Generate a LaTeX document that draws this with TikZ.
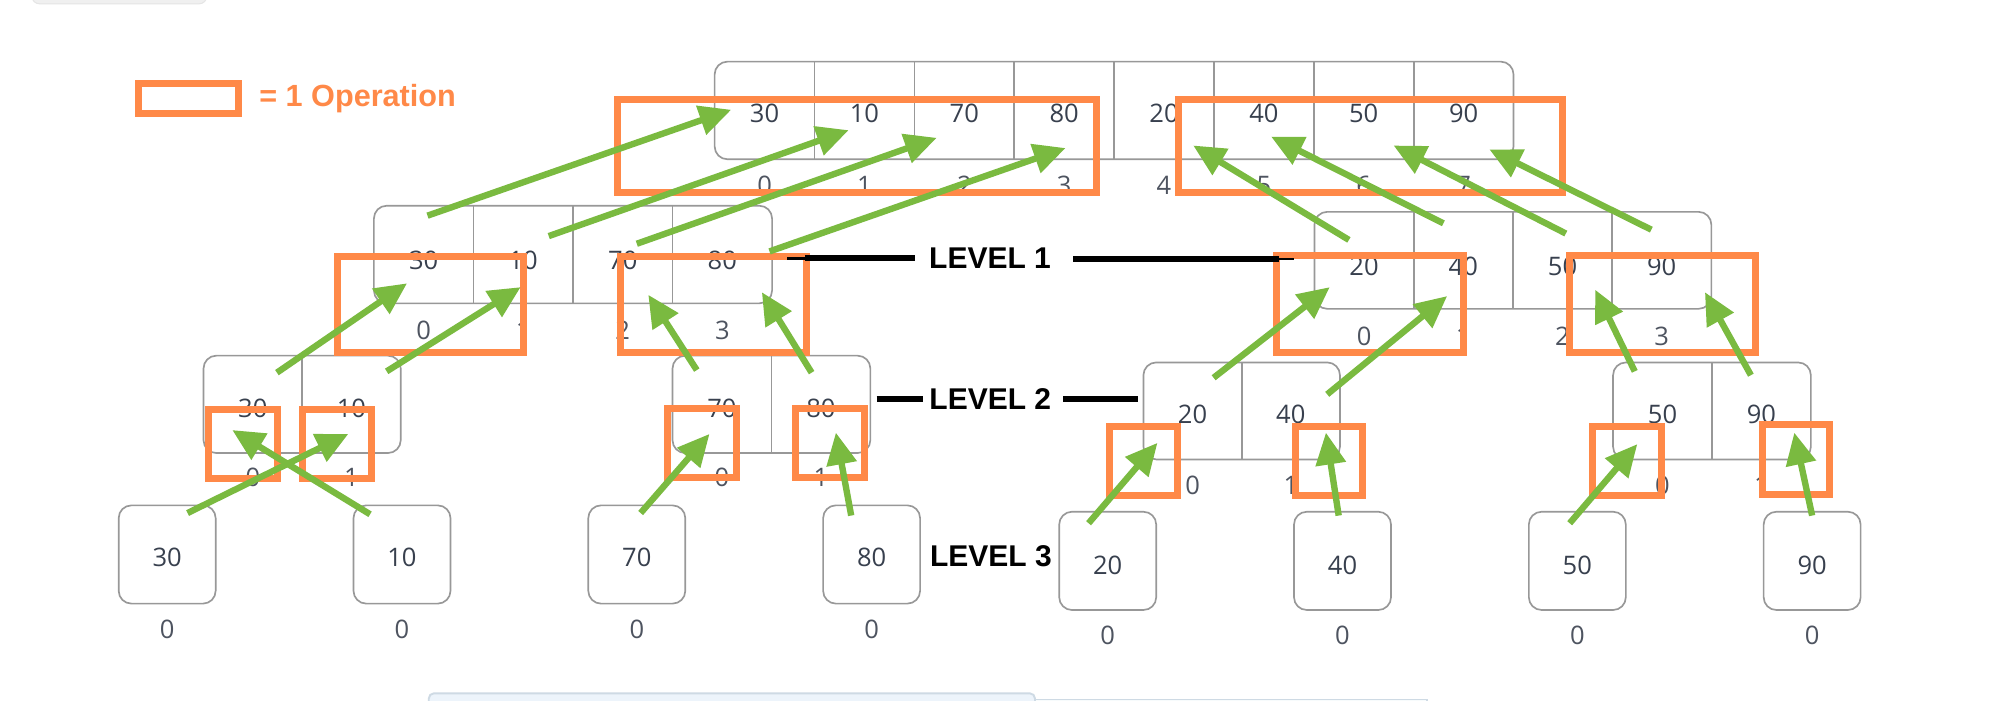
\documentclass[tikz,border=0pt]{standalone}
\usepackage{fontspec}
\setmainfont{Open Sans}
\newfontfamily\levelfont{Liberation Sans}
\usetikzlibrary{arrows.meta}

\definecolor{opcolor}{RGB}{255,137,72}
\definecolor{movecolor}{RGB}{122,186,64}
\definecolor{cellgray}{RGB}{152,152,152}
\definecolor{valuecolor}{RGB}{56,64,78}
\definecolor{indexcolor}{RGB}{78,84,96}
\definecolor{tabgray}{RGB}{240,240,240}
\definecolor{panelfill}{RGB}{237,244,251}
\definecolor{panelline}{RGB}{206,218,228}
\definecolor{panelfilltwo}{RGB}{247,251,252}

\tikzset{
  cellrow/.style={draw=cellgray, line width=1.3pt, rounded corners=10pt, inner sep=0pt, outer sep=0pt},
  cellline/.style={draw=cellgray, line width=1.3pt},
  valuetext/.style={text=valuecolor, font=\fontsize{20}{24}\selectfont, inner sep=0pt},
  indextext/.style={text=indexcolor, font=\fontsize{20}{24}\selectfont, inner sep=0pt},
  opframe/.style={draw=opcolor, line width=5.5pt},
  movearrow/.style={draw=movecolor, line width=5pt, -{Triangle[length=25pt,width=23pt]}},
  leveltext/.style={font=\levelfont\bfseries\fontsize{23.5}{28}\selectfont, inner sep=0pt},
  levelrule/.style={line width=4.7pt},
  levelthin/.style={line width=2pt},
}

% an array drawn as a row of cells: name, left, right, top, bottom,
% number of cells, value baseline, index baseline, values
\newcommand\arrayrow[9]{%
  \pgfmathsetmacro\cw{(#3-#2)/#6}%
  \node[cellrow, minimum width={#3-#2}, minimum height={#5-#4}] (#1) at ({(#2+#3)/2},{(#4+#5)/2}) {};%
  \foreach \v [count=\ci from 0] in {#9} {%
    \node[valuetext] (#1-v\ci) at ({#2+(\ci+0.5)*\cw},#7) {\v};%
    \node[indextext] (#1-i\ci) at ({#2+(\ci+0.5)*\cw},#8) {\ci};%
    \ifnum\ci>0 \draw[cellline] ({#2+\ci*\cw},#4) -- ({#2+\ci*\cw},#5);\fi
  }%
}

\begin{document}
\begin{tikzpicture}[x=1pt,y=-1pt]
\useasboundingbox (0,0) rectangle (1568,549);
\clip (0,0) rectangle (1568,549);
\fill[white] (0,0) rectangle (1568,549);

% page furniture at the edges
\filldraw[fill=tabgray, draw=gray!20, line width=0.8pt, rounded corners=6pt] (25,-20) rectangle (162,3);
\filldraw[fill=panelfill, draw=panelline, line width=1.5pt, rounded corners=4pt] (336,543.3) rectangle (811,570);
\filldraw[fill=panelfilltwo, draw=panelline, line width=1.2pt] (811,548) rectangle (1118,570);

% legend
\draw[opframe] (108.4,65.5) rectangle (186.8,89.2);
\node[anchor=west, text=opcolor, font=\levelfont\bfseries\fontsize{24}{28}\selectfont, inner sep=0pt] (legend) at (203,77.5) {= 1 Operation};

% level 0: merged array
\arrayrow{top}{560}{1186}{48.3}{124.8}{8}{88.8}{145}{30,10,70,80,20,40,50,90}

% level 1
\arrayrow{la}{293}{605}{161.2}{237.7}{4}{204}{258.6}{30,10,70,80}
\arrayrow{lb}{1030}{1341}{166}{242}{4}{209}{263.8}{20,40,50,90}

% level 2
\arrayrow{ma}{159.5}{314}{278.7}{355}{2}{320}{374}{30,10}
\arrayrow{mb}{527}{682}{278.7}{355}{2}{320}{374}{70,80}
\arrayrow{mc}{896}{1050}{284}{360}{2}{325}{380}{20,40}
\arrayrow{md}{1264}{1419}{284}{360}{2}{325}{380}{50,90}

% level 3: single elements
\arrayrow{sa}{93}{169}{396}{473}{1}{437}{493}{30}
\arrayrow{sb}{277}{353}{396}{473}{1}{437}{493}{10}
\arrayrow{sc}{461}{537}{396}{473}{1}{437}{493}{70}
\arrayrow{sd}{645}{721}{396}{473}{1}{437}{493}{80}
\arrayrow{se}{830}{906}{401}{478}{1}{443}{497.5}{20}
\arrayrow{sf}{1014}{1090}{401}{478}{1}{443}{497.5}{40}
\arrayrow{sg}{1198}{1274}{401}{478}{1}{443}{497.5}{50}
\arrayrow{sh}{1382}{1458}{401}{478}{1}{443}{497.5}{90}

% operations
\draw[opframe] (483.8,77.8) rectangle (859.2,151.2);
\draw[opframe] (923.8,77.8) rectangle (1224.2,151.2);
\draw[opframe] (264.8,200.8) rectangle (410.2,276.2);
\draw[opframe] (486.4,200.8) rectangle (632,276.2);
\draw[opframe] (1000.4,200.4) rectangle (1146.9,276.2);
\draw[opframe] (1229.6,200.4) rectangle (1375.3,276.2);
\draw[opframe] (163.4,320.8) rectangle (217.5,374.6);
\draw[opframe] (236.8,320.8) rectangle (290.8,374.6);
\draw[opframe] (522.8,320.3) rectangle (577.3,374.3);
\draw[opframe] (623.3,320.3) rectangle (677.3,374.3);
\draw[opframe] (869.4,334.4) rectangle (922.8,388.3);
\draw[opframe] (1014.8,334.4) rectangle (1067.8,388.3);
\draw[opframe] (1247.8,334) rectangle (1301.6,388.3);
\draw[opframe] (1381.4,332.8) rectangle (1433.3,387.3);

% level labels
\node[leveltext] (lv1) at (775.8,202.4) {LEVEL 1};
\node[leveltext] (lv2) at (776,312.5) {LEVEL 2};
\node[leveltext] (lv3) at (776.5,435.5) {LEVEL 3};
\coordinate (r1a) at (617,202.5);
\coordinate (r1b) at (631,202.5);
\coordinate (r1c) at (717,202.5);
\coordinate (r1d) at (841,203);
\coordinate (r1e) at (1002,203);
\coordinate (r1f) at (1014,203);
\draw[levelthin] (r1a) -- (r1b);
\draw[levelrule] (r1b) -- (r1c);
\draw[levelrule] (r1d) -- (r1e);
\draw[levelthin] (r1e) -- (r1f);
\coordinate (r2a) at (687,312.6);
\coordinate (r2b) at (723,312.6);
\coordinate (r2c) at (833,312.6);
\coordinate (r2d) at (892,312.6);
\draw[levelrule] (r2a) -- (r2b);
\draw[levelrule] (r2c) -- (r2d);

% merge moves: tail and tip of each arrow
\foreach \n/\tx/\ty/\hx/\hy in {
  a1/335/169/573/86, a2/430/185/665/102, a3/499/191/734/108, a4/603/197/835/116,
  b1/1057/188/935/114, b2/1131/175/996/107, b3/1227/183/1092/114, b4/1294/180/1167/117,
  c1/217/292/319/222, c2/303/291/408/225, c3/546/290/508/231, c4/636/292/597/229,
  d1/951/296/1042/225, d2/1040/309/1134/232, d3/1281/291/1250/227, d4/1372/294/1336/229,
  e1/147/402/273/340, e2/290/403/182/337, e3/502/402/556/340, e4/667/404/655/339,
  f1/853/410/907/347, f2/1049/404/1039/339, f3/1230/410/1283/348, f4/1420/404/1406/339} {
  \coordinate (\n-tail) at (\tx,\ty);
  \coordinate (\n-tip) at (\hx,\hy);
  \draw[movearrow] (\n-tail) -- (\n-tip);
}
\end{tikzpicture}
\end{document}
